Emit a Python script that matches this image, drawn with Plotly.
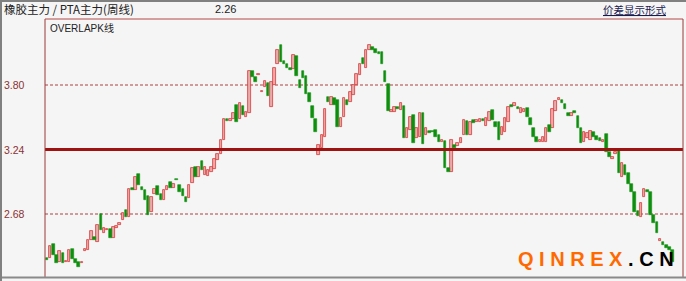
import plotly.graph_objects as go

# Weekly ratio candles (rubber main / PTA main)
opens = [2.298, 2.298, 2.420, 2.324, 2.263, 2.342, 2.263, 2.263, 2.376, 2.289,
         2.263, 2.254, 2.359, 2.368, 2.454, 2.480, 2.437, 2.680, 2.515, 2.541,
         2.550, 2.472, 2.559, 2.585, 2.628, 2.715, 2.654, 2.906, 2.889, 3.027,
         2.914, 2.889, 2.836, 2.697, 2.854, 2.923, 2.854, 2.802, 2.889, 2.958,
         2.906, 2.984, 2.932, 2.897, 2.828, 2.819, 2.949, 3.088, 3.001, 3.140,
         3.019, 3.010, 3.045, 3.071, 3.149, 3.201, 3.323, 3.505, 3.487, 3.505,
         3.626, 3.505, 3.618, 3.522, 3.557, 3.921, 3.869, 3.886, 3.739, 3.783,
         3.817, 3.609, 3.800, 3.982, 4.147, 4.008, 3.982, 3.947, 3.939, 4.052,
         3.843, 3.921, 3.878, 3.730, 3.618, 3.505, 3.192, 3.253, 3.349, 3.696,
         3.626, 3.687, 3.670, 3.435, 3.522, 3.670, 3.652, 3.713, 3.800, 3.886,
         4.034, 3.947, 4.104, 4.130, 4.112, 4.086, 4.086, 3.921, 3.808, 3.566,
         3.566, 3.609, 3.583, 3.618, 3.340, 3.409, 3.540, 3.340, 3.349, 3.557,
         3.366, 3.401, 3.401, 3.409, 3.366, 3.305, 3.314, 3.079, 3.045, 3.279,
         3.270, 3.296, 3.366, 3.487, 3.366, 3.496, 3.479, 3.479, 3.505, 3.444,
         3.487, 3.583, 3.479, 3.479, 3.366, 3.392, 3.479, 3.626, 3.618, 3.609,
         3.557, 3.566, 3.600, 3.513, 3.427, 3.349, 3.305, 3.305, 3.305, 3.453,
         3.427, 3.574, 3.670, 3.670, 3.635, 3.557, 3.531, 3.574, 3.531, 3.427,
         3.305, 3.340, 3.323, 3.392, 3.357, 3.340, 3.305, 3.375, 3.218, 3.158,
         3.201, 3.227, 3.001, 3.105, 3.036, 2.941, 2.871, 2.706, 2.654, 2.828,
         2.889, 2.871, 2.671, 2.611, 2.446, 2.437, 2.411, 2.394, 2.368]
closes = [2.281, 2.402, 2.324, 2.254, 2.359, 2.254, 2.272, 2.368, 2.289, 2.254,
          2.220, 2.263, 2.376, 2.454, 2.533, 2.454, 2.585, 2.541, 2.559, 2.550,
          2.472, 2.567, 2.576, 2.602, 2.689, 2.654, 2.897, 2.889, 3.001, 2.932,
          2.889, 2.802, 2.671, 2.828, 2.897, 2.845, 2.802, 2.889, 2.923, 2.906,
          2.941, 2.975, 2.871, 2.836, 2.784, 2.932, 3.079, 3.001, 3.088, 3.062,
          3.088, 3.062, 3.088, 3.158, 3.201, 3.323, 3.505, 3.487, 3.505, 3.557,
          3.479, 3.644, 3.540, 3.566, 3.921, 3.869, 3.826, 3.895, 3.748, 3.835,
          3.704, 3.826, 3.947, 4.104, 4.000, 3.982, 3.947, 3.930, 4.060, 3.878,
          3.774, 3.861, 3.722, 3.652, 3.513, 3.392, 3.279, 3.366, 3.592, 3.652,
          3.696, 3.626, 3.435, 3.513, 3.687, 3.626, 3.739, 3.800, 3.895, 3.982,
          3.982, 4.104, 4.147, 4.104, 4.078, 4.069, 3.982, 3.826, 3.574, 3.583,
          3.609, 3.592, 3.644, 3.340, 3.427, 3.522, 3.296, 3.427, 3.557, 3.288,
          3.427, 3.383, 3.392, 3.349, 3.305, 3.323, 3.079, 3.045, 3.323, 3.253,
          3.296, 3.340, 3.496, 3.366, 3.479, 3.470, 3.496, 3.505, 3.487, 3.513,
          3.566, 3.496, 3.435, 3.323, 3.435, 3.513, 3.609, 3.609, 3.644, 3.592,
          3.600, 3.592, 3.522, 3.453, 3.349, 3.305, 3.323, 3.349, 3.427, 3.392,
          3.592, 3.661, 3.687, 3.644, 3.592, 3.531, 3.557, 3.557, 3.427, 3.296,
          3.392, 3.383, 3.401, 3.349, 3.323, 3.314, 3.323, 3.218, 3.175, 3.175,
          3.218, 3.036, 3.123, 3.019, 2.941, 2.871, 2.697, 2.663, 2.776, 2.897,
          2.871, 2.671, 2.602, 2.515, 2.463, 2.411, 2.385, 2.368, 2.263]

y_ticks = [3.80, 3.24, 2.68]
y_tick_labels = ["3.80", "3.24", "2.68"]
mid_line = 3.24
title_text = "橡胶主力 / PTA主力(周线)"
last_value = "2.26"
chart_kind = "OVERLAPK线"
mode_link = "价差显示形式"

n = min(len(opens), len(closes))
weeks = list(range(n))

up_x, up_base, up_h = [], [], []
dn_x, dn_base, dn_h = [], [], []
for i in weeks:
    o, c = opens[i], closes[i]
    lo = min(o, c)
    h = max(abs(c - o), 0.006)
    if c >= o:
        up_x.append(i); up_base.append(lo); up_h.append(h)
    else:
        dn_x.append(i); dn_base.append(lo); dn_h.append(h)

fig = go.Figure()
fig.add_trace(go.Bar(x=up_x, y=up_h, base=up_base, width=0.8,
                     marker=dict(color="#EBAAAA", line=dict(color="#D83A3A", width=0.8)),
                     hoverinfo="skip"))
fig.add_trace(go.Bar(x=dn_x, y=dn_h, base=dn_base, width=0.8,
                     marker=dict(color="#0E900E", line=dict(color="#0E900E", width=0.6)),
                     hoverinfo="skip"))

L, R, T, B = 45, 3, 19, 4
W, H = 686, 281
pw, ph = W - L - R, H - T - B


def px(xp):
    return (xp - L) / pw


def py(yp):
    return 1 - (yp - T) / ph


shapes = []
# reference lines
for v in (y_ticks[0], y_ticks[2]):
    shapes.append(dict(type="line", xref="paper", yref="y", x0=0, x1=1, y0=v, y1=v,
                       line=dict(color="#A84040", width=1, dash="3px,2px"), layer="below"))
shapes.append(dict(type="line", xref="paper", yref="y", x0=0, x1=1, y0=mid_line, y1=mid_line,
                   line=dict(color="#9E1212", width=3), layer="above"))
# frame
shapes += [
    dict(type="line", xref="paper", yref="paper", x0=0, x1=0, y0=0, y1=1,
         line=dict(color="#9A3A3A", width=1)),
    dict(type="line", xref="paper", yref="paper", x0=0, x1=1, y0=1, y1=1,
         line=dict(color="#B04848", width=1)),
    dict(type="line", xref="paper", yref="paper", x0=1, x1=1, y0=0, y1=1,
         line=dict(color="#9A3A3A", width=1)),
    dict(type="line", xref="paper", yref="paper", x0=px(0), x1=px(W), y0=py(277.5), y1=py(277.5),
         line=dict(color="#8A8A8A", width=2)),
    dict(type="line", xref="paper", yref="paper", x0=px(1), x1=px(1), y0=py(0), y1=py(H),
         line=dict(color="#808080", width=2)),
    dict(type="line", xref="paper", yref="paper", x0=px(0), x1=px(W), y0=py(1), y1=py(1),
         line=dict(color="#808080", width=2)),
]

ann = []
for v, t in zip(y_ticks, y_tick_labels):
    ann.append(dict(text=t, xref="paper", yref="y", x=px(2), y=v, xanchor="left", yanchor="middle",
                    showarrow=False, font=dict(family="Liberation Sans", size=10.5, color="#8B3232")))
ann.append(dict(text=title_text, xref="paper", yref="paper", x=px(2), y=py(9.5), xanchor="left",
                yanchor="middle", showarrow=False,
                font=dict(family="Noto Sans CJK SC", size=11.5, color="#222222")))
ann.append(dict(text=last_value, xref="paper", yref="paper", x=px(213), y=py(9.5), xanchor="left",
                yanchor="middle", showarrow=False,
                font=dict(family="Liberation Sans", size=11, color="#222222")))
ann.append(dict(text=mode_link, xref="paper", yref="paper", x=px(669), y=py(9.5), xanchor="right",
                yanchor="middle", showarrow=False,
                font=dict(family="Noto Sans CJK SC", size=10.5, color="#1A1A50", lineposition="under")))
ann.append(dict(text=chart_kind, xref="paper", yref="paper", x=px(48), y=py(28), xanchor="left",
                yanchor="middle", showarrow=False,
                font=dict(family="Liberation Sans, Noto Sans CJK SC", size=10, color="#222222")))
ann.append(dict(text='<span style="color:#FF6A00">Q I N R E X</span> . C N', xref="paper", yref="paper",
                x=px(516), y=py(259), xanchor="left", yanchor="middle", showarrow=False,
                font=dict(family="Liberation Sans", size=20, color="#000000", weight="bold")))

fig.update_layout(
    width=W, height=H,
    margin=dict(l=L, r=R, t=T, b=B, pad=0),
    paper_bgcolor="#F5F5F5", plot_bgcolor="#F5F5F5",
    showlegend=False, barmode="overlay", bargap=0,
    xaxis=dict(range=[-0.65, n - 1 + 3.3], showgrid=False, showticklabels=False, zeroline=False,
               ticks="", fixedrange=True),
    yaxis=dict(range=[2.133, 4.373], showgrid=False, showticklabels=False, zeroline=False,
               ticks="", fixedrange=True),
    shapes=shapes, annotations=ann,
)

fig.write_html("out.html")
